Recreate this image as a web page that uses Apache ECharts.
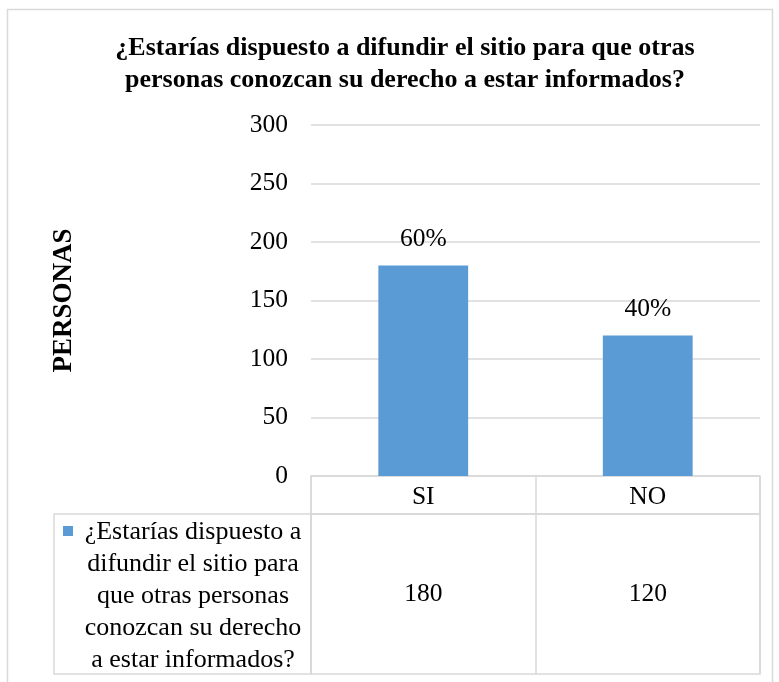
<!DOCTYPE html>
<html>
<head>
<meta charset="utf-8">
<script src="https://cdn.jsdelivr.net/npm/echarts@6/dist/echarts.min.js"></script>
<style>
  html, body { margin: 0; padding: 0; background: #fff; }
  #chart { width: 779px; height: 682px; }
</style>
</head>
<body>
<div id="chart"></div>
<script>
  // datos de la encuesta
  const categories = ['SI', 'NO'];
  const personas = [180, 120];
  const percentLabels = ['60%', '40%'];
  const yTicks = [0, 50, 100, 150, 200, 250, 300];
  const seriesName = '¿Estarías dispuesto a difundir el sitio para que otras personas conozcan su derecho a estar informados?';
  const legendLines = ['¿Estarías dispuesto a', 'difundir el sitio para', 'que otras personas', 'conozcan su derecho', 'a estar informados?'];
  const titleLines = ['¿Estarías dispuesto a difundir el sitio para que otras', 'personas conozcan su derecho a estar informados?'];
  const axisName = 'PERSONAS';

  const font = '"Times New Roman", "Liberation Serif", serif';
  const gray = '#d9d9d9';
  const blue = '#5b9bd5';
  const fs = 25.5;

  let myChart = echarts.init(document.getElementById('chart'));
  let option = {
    animation: false,
    textStyle: { fontFamily: font, color: '#000' },
    grid: [
      { left: 311, right: 19, top: 125, bottom: 206 },
      // fila de encabezado de la tabla
      { left: 311, right: 19, top: 476, height: 38, show: true, borderColor: gray, borderWidth: 1.5 },
      // fila de valores
      { left: 311, right: 19, top: 514, height: 160, show: true, borderColor: gray, borderWidth: 1.5 }
    ],
    xAxis: [
      {
        type: 'category', gridIndex: 0, data: categories,
        axisLine: { show: false }, axisTick: { show: false },
        axisLabel: { fontSize: fs, color: '#000', fontFamily: font, margin: 8 }
      },
      {
        type: 'category', gridIndex: 1, data: categories,
        axisLine: { show: false }, axisTick: { show: false }, axisLabel: { show: false },
        splitLine: { show: true, lineStyle: { color: gray, width: 1.5 } }
      },
      {
        type: 'category', gridIndex: 2, data: categories,
        axisLine: { show: false }, axisTick: { show: false }, axisLabel: { show: false },
        splitLine: { show: true, lineStyle: { color: gray, width: 1.5 } }
      }
    ],
    yAxis: [
      {
        type: 'value', gridIndex: 0, min: yTicks[0], max: yTicks[yTicks.length - 1], interval: yTicks[1] - yTicks[0],
        name: axisName, nameLocation: 'middle', nameRotate: 90, nameGap: 233,
        nameTextStyle: { fontSize: 27, fontWeight: 'bold', fontFamily: font, color: '#000' },
        axisLine: { show: false }, axisTick: { show: false },
        axisLabel: { fontSize: fs, color: '#000', fontFamily: font, margin: 23 },
        splitLine: { lineStyle: { color: gray, width: 1.5 } }
      },
      { type: 'value', gridIndex: 1, min: 0, max: 1, show: false },
      { type: 'value', gridIndex: 2, min: 0, max: 1, show: false }
    ],
    legend: {
      data: [seriesName],
      left: 63, top: 526, padding: 0,
      icon: 'rect', itemWidth: 10, itemHeight: 10, itemGap: 0,
      formatter: () => '',
      selectedMode: false
    },
    series: [
      {
        name: seriesName,
        type: 'bar',
        xAxisIndex: 0, yAxisIndex: 0,
        data: personas,
        barWidth: '40%',
        itemStyle: { color: blue },
        label: {
          show: true, position: 'top', distance: 13,
          fontSize: fs, color: '#000', fontFamily: font,
          formatter: p => percentLabels[p.dataIndex]
        }
      },
      {
        name: 'tabla',
        type: 'scatter',
        xAxisIndex: 2, yAxisIndex: 2,
        symbolSize: 0,
        itemStyle: { opacity: 1, color: 'transparent' },
        data: personas.map((v, i) => [categories[i], 0.5, v]),
        label: {
          show: true, position: 'inside',
          fontSize: fs, color: '#000', fontFamily: font,
          formatter: p => String(p.data[2])
        },
        silent: true
      }
    ],
    graphic: [
      // borde exterior del grafico
      { type: 'rect', shape: { x: 7.5, y: 9.5, width: 765, height: 720 }, style: { fill: 'none', stroke: gray, lineWidth: 1.5 }, silent: true },
      // celda del nombre de la serie
      { type: 'rect', shape: { x: 54, y: 514, width: 257, height: 160 }, style: { fill: 'none', stroke: gray, lineWidth: 1.5 }, silent: true },
      {
        type: 'text', x: 405, y: 32,
        style: { text: titleLines.join('\n'), font: 'bold 26px ' + font, fill: '#000', textAlign: 'center', lineHeight: 32 }
      },
      {
        type: 'text', x: 193, y: 516,
        style: { text: legendLines.join('\n'), font: '26px ' + font, fill: '#000', textAlign: 'center', lineHeight: 32 }
      }
    ]
  };
  myChart.setOption(option);
</script>
</body>
</html>
